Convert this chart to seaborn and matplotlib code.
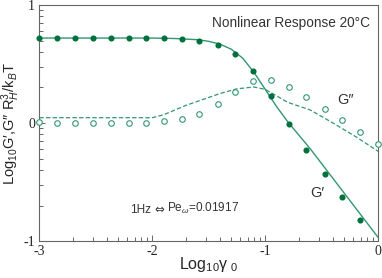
import numpy as np
import pandas as pd
import seaborn as sns
import matplotlib.pyplot as plt
from matplotlib.ticker import FuncFormatter, LogLocator

# log10(gamma_0) of the measured points
x_pts = [-3.0, -2.842, -2.683, -2.523, -2.366, -2.209, -2.053, -1.896, -1.739, -1.583,
         -1.420, -1.264, -1.107, -0.950, -0.794, -0.635, -0.475, -0.316, -0.159, 0.0]
# log10 G' (filled), log10 G'' (open)
g1_pts = [0.723, 0.723, 0.723, 0.722, 0.722, 0.722, 0.722, 0.722, 0.712, 0.695,
          0.661, 0.585, 0.438, 0.229, -0.006, -0.229, -0.430, -0.627, -0.825]
g2_pts = [0.006, -0.003, -0.003, -0.003, -0.003, -0.003, 0.003, 0.014, 0.034, 0.077,
          0.158, 0.265, 0.356, 0.362, 0.305, 0.218, 0.121, 0.023, -0.079, -0.181]

# model curves
x_g1_fit = [-3.0, -2.0, -1.8, -1.6, -1.5, -1.4, -1.3, -1.2, -1.1, -1.0, -0.9, -0.8,
            -0.6, -0.4, -0.2, 0.0]
g1_fit = [0.72, 0.72, 0.716, 0.706, 0.692, 0.668, 0.625, 0.55, 0.43, 0.285, 0.14, 0.01,
          -0.22, -0.47, -0.72, -0.97]
x_g2_fit = [-3.0, -2.0, -1.9, -1.8, -1.7, -1.55, -1.4, -1.25, -1.1, -1.0, -0.8, -0.6,
            -0.4, -0.2, 0.0]
g2_fit = [0.045, 0.045, 0.07, 0.11, 0.15, 0.20, 0.25, 0.29, 0.305, 0.285, 0.175, 0.11,
          0.0, -0.115, -0.24]

dot_col = '#00703c'
line_col = '#339673'
txt_col = '#333333'

sns.set_style('ticks')
plt.rcParams['font.family'] = ['Liberation Sans', 'DejaVu Sans']
plt.rcParams['mathtext.fontset'] = 'custom'
plt.rcParams['mathtext.rm'] = 'Liberation Sans'
plt.rcParams['mathtext.it'] = 'Liberation Sans:italic'

fig = plt.figure(figsize=(3.82, 2.78), dpi=100)
ax = fig.add_axes([0.103, 0.133, 0.887, 0.849])

p = lambda v: 10 ** np.asarray(v)
sns.lineplot(x=p(x_g1_fit), y=p(g1_fit), sort=False, estimator=None, color=line_col, lw=1.0, ax=ax)
sns.lineplot(x=p(x_g2_fit), y=p(g2_fit), sort=False, estimator=None, color=line_col, lw=0.9,
             ax=ax, linestyle=(0, (3.5, 1.8)))
ax.plot(p(x_pts[:len(g1_pts)]), p(g1_pts), 'o', color=dot_col, ms=4.4, mew=0, clip_on=False, zorder=5)
ax.plot(p(x_pts), p(g2_pts), 'o', mfc='white', mec=line_col, ms=4.0, mew=0.8, clip_on=False, zorder=5)

ax.set_xscale('log')
ax.set_yscale('log')
ax.set_xlim(1e-3, 1)
ax.set_ylim(0.1, 10)
ax.xaxis.set_minor_locator(LogLocator(base=10, subs=np.arange(2, 10)))
ax.yaxis.set_minor_locator(LogLocator(base=10, subs=np.arange(2, 10)))
fmt = FuncFormatter(lambda v, pos: '%d' % round(np.log10(v)))
ax.xaxis.set_major_formatter(fmt)
ax.yaxis.set_major_formatter(fmt)
ax.xaxis.set_minor_formatter(FuncFormatter(lambda v, pos: ''))
ax.yaxis.set_minor_formatter(FuncFormatter(lambda v, pos: ''))

ax.tick_params(which='both', direction='in', top=False, right=False, color='#666666', width=0.7)
ax.tick_params(which='major', length=4.5, labelsize=10, pad=3)
ax.tick_params(which='minor', length=3)
for lab in ax.get_xticklabels() + ax.get_yticklabels():
    lab.set_family('Liberation Serif')
for s in ax.spines.values():
    s.set_color('#666666')
    s.set_linewidth(0.8)

ax.set_xlabel(r'Log$_{10}$γ$_{\ 0}$', fontsize=11.5)
ax.xaxis.set_label_coords(0.5, -0.06)
ax.set_ylabel(r'Log$_{10}$G′,G″ R$_H^3$/k$_B$T', fontsize=10.5)
ax.yaxis.set_label_coords(-0.05, 0.5)

ax.text(0.976, 0.924, 'Nonlinear Response 20°C', transform=ax.transAxes, ha='right', va='center',
        fontsize=9.8, color=txt_col)
ax.text(0.88, 0.597, 'G″', transform=ax.transAxes, ha='left', va='center', fontsize=10.5, color=txt_col)
ax.text(0.80, 0.203, 'G′', transform=ax.transAxes, ha='left', va='center', fontsize=10.5, color=txt_col)

t1 = ax.text(0.267, 0.105, '1Hz', transform=ax.transAxes, ha='left', va='bottom',
             fontsize=8.5, color=txt_col)
t2 = ax.annotate('⇔', xy=(1, 0), xycoords=t1, xytext=(2.5, 0), textcoords='offset points',
                 ha='left', va='bottom', fontsize=8.5, color=txt_col, family='DejaVu Sans')
ax.annotate(r'Pe$_\omega$=0.01917', xy=(1, 0), xycoords=t2, xytext=(2, 0),
            textcoords='offset points', ha='left', va='bottom', fontsize=8.5, color=txt_col)

fig.savefig('out.png', dpi=100)
